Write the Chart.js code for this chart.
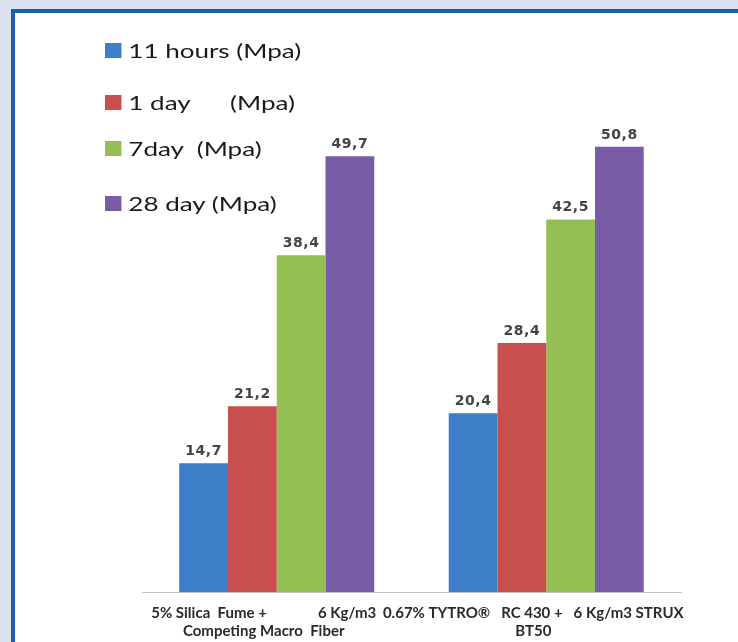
<!DOCTYPE html>
<html>
<head>
<meta charset="utf-8">
<script src="https://cdn.jsdelivr.net/npm/chart.js@4/dist/chart.umd.min.js"></script>
<style>
  body { margin: 0; background: #dbe3f1; width: 738px; height: 642px; overflow: hidden; position: relative; }
  #frame { position: absolute; left: 11px; top: 9px; right: 0; bottom: 0; background: #fff;
           border-left: 4px solid #1b5ea9; border-top: 4px solid #1b5ea9; }
  #wrap { position: absolute; left: 0; top: 0; width: 738px; height: 642px; }
  #legend { position: absolute; left: 105px; top: 0; transform: scaleX(1.37); transform-origin: left top;
            font-family: Lato, sans-serif; font-size: 19px; color: #1a1a1a; }
  .row { position: absolute; left: 0; white-space: pre; display: flex; align-items: center; height: 24px; }
  .box { width: 12px; height: 15px; margin-right: 5px; }
</style>
</head>
<body>
<div id="frame"></div>
<div id="wrap"><canvas id="myChart" width="738" height="642"></canvas></div>
<div id="legend"></div>
<script>
// categories (two lines each)
const categories = [
  ['5% Silica  Fume +              6 Kg/m3', 'Competing Macro  Fiber'],
  ['0.67% TYTRO\u00ae   RC 430 +   6 Kg/m3 STRUX', 'BT50']
];
const seriesLabels = ['11 hours (Mpa)', '1 day      (Mpa)', '7day  (Mpa)', '28 day (Mpa)'];
const hours11 = [14.7, 20.4];
const day1 = [21.2, 28.4];
const day7 = [38.4, 42.5];
const day28 = [49.7, 50.8];
const colors = ['#3c7ec7', '#c84f4e', '#94bf55', '#7a5ca6'];
const legendRowTop = [38, 90, 136, 191];

const seriesData = [hours11, day1, day7, day28];

// value labels above the bars, comma decimal
const valueLabels = {
  id: 'valueLabels',
  afterDatasetsDraw(chart) {
    const ctx = chart.ctx;
    ctx.save();
    ctx.font = 'bold 14px "DejaVu Sans"';
    ctx.fillStyle = '#444';
    ctx.textAlign = 'center';
    ctx.textBaseline = 'alphabetic';
    ctx.letterSpacing = '0.5px';
    chart.data.datasets.forEach((ds, i) => {
      chart.getDatasetMeta(i).data.forEach((bar, j) => {
        const txt = ds.data[j].toFixed(1).replace('.', ',');
        ctx.fillText(txt, bar.x, bar.y - 8);
      });
    });
    ctx.restore();
  }
};

const ctx = document.getElementById('myChart');
new Chart(ctx, {
  type: 'bar',
  data: {
    labels: categories,
    datasets: seriesLabels.map((label, i) => ({
      label: label,
      data: seriesData[i],
      backgroundColor: colors[i],
      borderWidth: 0,
      categoryPercentage: 0.7236,
      barPercentage: 1
    }))
  },
  options: {
    responsive: false,
    animation: false,
    layout: { padding: { left: 142, right: 57, top: 66, bottom: 0 } },
    plugins: {
      legend: { display: false },
      tooltip: { enabled: false }
    },
    scales: {
      x: {
        grid: { display: false, drawTicks: false },
        border: { display: true, color: '#c4c4c4', width: 1 },
        ticks: {
          color: '#2a2a2a',
          font: { family: 'Lato', size: 15, weight: 'bold', lineHeight: 1.2 },
          padding: 12,
          labelOffset: -13,
          maxRotation: 0,
          autoSkip: false
        },
        afterFit(scale) { scale.height = 50; }
      },
      y: {
        display: false,
        min: 0,
        max: 60
      }
    }
  },
  plugins: [valueLabels]
});

// legend built from the series labels
const legend = document.getElementById('legend');
seriesLabels.forEach((label, i) => {
  const row = document.createElement('div');
  row.className = 'row';
  row.style.top = legendRowTop[i] + 'px';
  row.innerHTML = `<span class="box" style="background:${colors[i]}"></span><span>${label}</span>`;
  legend.appendChild(row);
});
</script>
</body>
</html>
